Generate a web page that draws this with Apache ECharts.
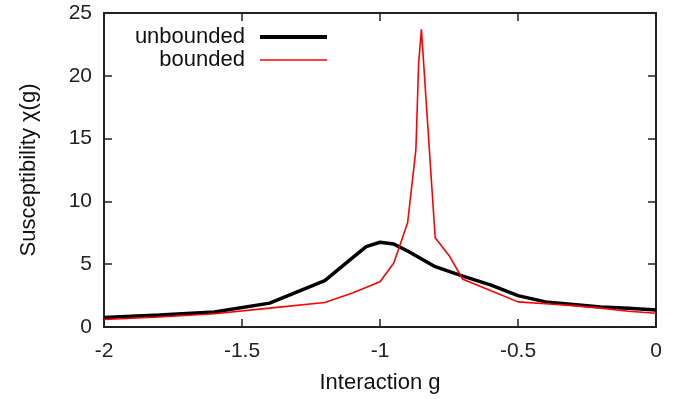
<!DOCTYPE html>
<html>
<head>
<meta charset="utf-8">
<script src="https://cdn.jsdelivr.net/npm/echarts@6/dist/echarts.min.js"></script>
<style>
  html, body { margin: 0; padding: 0; background: #fff; }
  #chart { width: 685px; height: 399px; }
</style>
</head>
<body>
<div id="chart"></div>
<script>
// susceptibility vs interaction
var unboundedG = [-2, -1.8, -1.6, -1.4, -1.2, -1.1, -1.05, -1.0, -0.95, -0.9, -0.8, -0.7, -0.6, -0.5, -0.4, -0.3, -0.2, -0.1, 0];
var unboundedChi = [0.75, 0.95, 1.2, 1.9, 3.7, 5.5, 6.4, 6.75, 6.6, 6.05, 4.8, 4.05, 3.35, 2.5, 2.0, 1.8, 1.6, 1.5, 1.35];

var boundedG = [-2, -1.8, -1.6, -1.4, -1.2, -1.1, -1.0, -0.95, -0.9, -0.87, -0.86, -0.85, -0.8, -0.75, -0.7, -0.6, -0.5, -0.4, -0.3, -0.2, -0.1, 0];
var boundedChi = [0.6, 0.8, 1.05, 1.5, 1.95, 2.7, 3.6, 5.1, 8.3, 14.1, 21.0, 23.7, 7.1, 5.7, 3.8, 2.9, 2.0, 1.85, 1.7, 1.5, 1.25, 1.1];

var xTicks = [-2, -1.5, -1, -0.5, 0];
var yTicks = [0, 5, 10, 15, 20, 25];

function pairs(xs, ys) {
	var out = [];
	for (var i = 0; i < xs.length; i++) out.push([xs[i], ys[i]]);
	return out;
}

(function(){
	var myChart = echarts.init(document.getElementById("chart"));
	var font = 'Liberation Sans, Arial, Helvetica, sans-serif';
	var axisLine = { show: true, onZero: false, lineStyle: { color: '#222', width: 2 } };
	var tick = { show: true, inside: true, length: 8, lineStyle: { color: '#222', width: 1.5 } };
	var legendText = { fontSize: 22, color: '#111', fontFamily: font, padding: [0, 10, 0, 0] };

	var option = {
		animation: false,
		grid: { left: 104, right: 29, top: 13, bottom: 72 },
		legend: [
			{
				data: ['unbounded'],
				right: 353, top: 21,
				align: 'right', icon: 'rect',
				itemWidth: 67, itemHeight: 4,
				textStyle: legendText
			},
			{
				data: ['bounded'],
				right: 353, top: 44,
				align: 'right', icon: 'rect',
				itemWidth: 67, itemHeight: 1.6,
				textStyle: legendText
			}
		],
		xAxis: [
			{
				type: 'value',
				min: xTicks[0], max: xTicks[xTicks.length - 1], interval: 0.5,
				name: 'Interaction g',
				nameLocation: 'middle', nameGap: 45,
				nameTextStyle: { fontSize: 22, color: '#111', fontFamily: font },
				axisLine: axisLine, axisTick: tick,
				axisLabel: { fontSize: 21, color: '#222', fontFamily: font, margin: 14 },
				splitLine: { show: false }
			},
			{
				type: 'value', position: 'top',
				min: xTicks[0], max: xTicks[xTicks.length - 1], interval: 0.5,
				axisLine: axisLine, axisTick: tick,
				axisLabel: { show: false }, splitLine: { show: false }
			}
		],
		yAxis: [
			{
				type: 'value',
				min: yTicks[0], max: yTicks[yTicks.length - 1], interval: 5,
				name: 'Susceptibility χ(g)',
				nameLocation: 'middle', nameGap: 64,
				nameTextStyle: { fontSize: 22, color: '#111', fontFamily: font },
				axisLine: axisLine, axisTick: tick,
				axisLabel: { fontSize: 21, color: '#222', fontFamily: font, margin: 12 },
				splitLine: { show: false }
			},
			{
				type: 'value', position: 'right',
				min: yTicks[0], max: yTicks[yTicks.length - 1], interval: 5,
				axisLine: axisLine, axisTick: tick,
				axisLabel: { show: false }, splitLine: { show: false }
			}
		],
		series: [
			{
				name: 'unbounded',
				type: 'line',
				symbol: 'none',
				itemStyle: { color: '#000' },
				lineStyle: { color: '#000', width: 3.5 },
				data: pairs(unboundedG, unboundedChi)
			},
			{
				name: 'bounded',
				type: 'line',
				symbol: 'none',
				itemStyle: { color: '#f00' },
				lineStyle: { color: '#f00', width: 1.6 },
				data: pairs(boundedG, boundedChi)
			}
		]
	};
	myChart.setOption(option);
})();
</script>
</body>
</html>
